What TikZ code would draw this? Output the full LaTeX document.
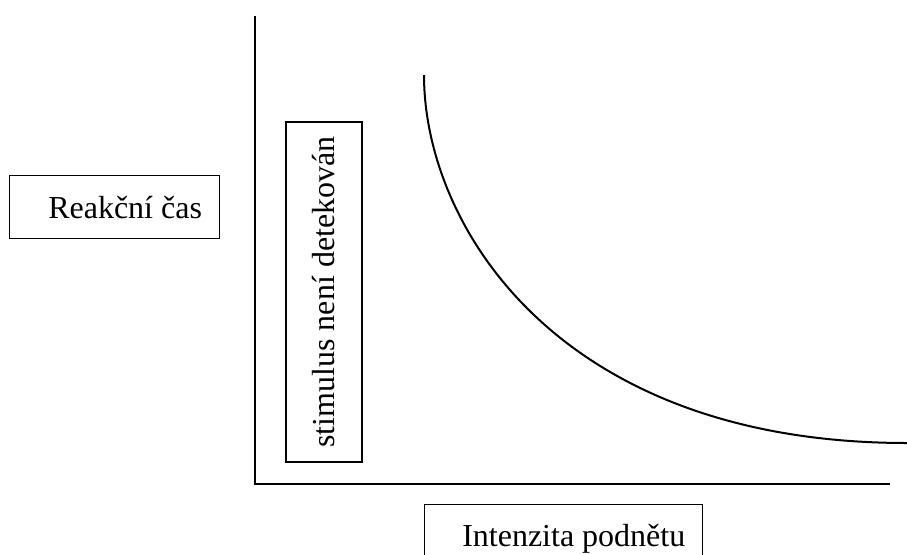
\documentclass[tikz,border=0pt]{standalone}
\usepackage{fontspec}
\setmainfont{Liberation Serif}
\begin{document}
\begin{tikzpicture}[x=0.75pt,y=-0.75pt,
  frame/.style={draw=black,line width=1.1pt,inner sep=0pt,fill=none},
  lbl/.style={inner sep=0pt,font=\fontsize{24}{29}\selectfont},
  axis/.style={line width=1.6pt},
  curve/.style={line width=1.5pt}]
\clip (0,0) rectangle (907,554);

% axes
\coordinate (ytop) at (255,16);
\coordinate (origin) at (255,484);
\coordinate (xend) at (890,484);
\draw[axis] (ytop) -- (origin) -- (xend);

% y-axis caption
\node[frame,anchor=north west,minimum width=210*0.75pt,minimum height=63*0.75pt] (ybox) at (9,175) {};
\node[lbl,anchor=base west] (ylabel) at (48,218) {Reakční čas};

% region where the stimulus is not detected
\node[frame,minimum width=76*0.75pt,minimum height=340*0.75pt] (nbox) at (324,292) {};
\node[lbl,rotate=90] (nlabel) at (nbox.center) {stimulus není detekován};

% x-axis caption (box runs off the lower edge)
\node[frame,anchor=north west,minimum width=278*0.75pt,minimum height=70*0.75pt] (xbox) at (424,504) {};
\node[lbl,anchor=base west] (xlabel) at (462,546) {Intenzita podnětu};

% reaction time falling with stimulus intensity
\coordinate (cstart) at (424,75);
\coordinate (cend) at (907,443);
\draw[curve] (cstart) .. controls (424,225) and (557,443) .. (cend);
\end{tikzpicture}
\end{document}
